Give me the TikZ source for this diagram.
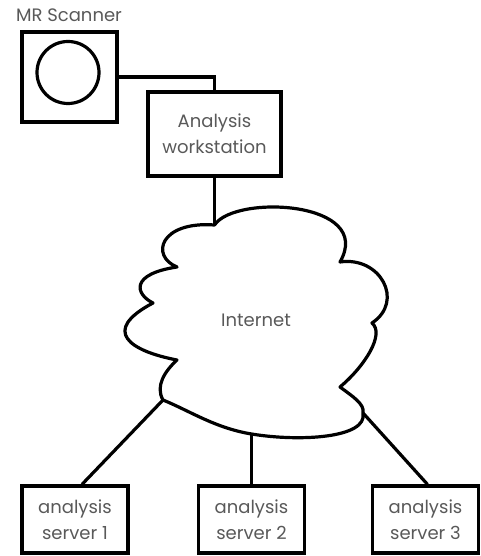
\documentclass[tikz,border=0pt]{standalone}
\usepackage{fontspec}
\setmainfont{Poppins}
\usetikzlibrary{positioning,calc}

\begin{document}
\begin{tikzpicture}[
  x=1pt, y=1pt,
  box/.style={draw, line width=3.2pt, align=center, inner sep=0pt, text=black!65, font=\fontsize{18}{26}\selectfont},
  unit/.style={box, minimum width=106pt, minimum height=67pt},
  link/.style={line width=3.2pt},
  cloudline/.style={line width=3.2pt, line join=round},
  label/.style={text=black!65, font=\fontsize{18}{20}\selectfont}
]
\useasboundingbox (0,0) rectangle (480,556);

\node[box, minimum width=95pt, minimum height=90pt] (scanner) at (69.5,479) {};
\draw[link] (68,483.5) circle (31pt);
\node[label] (mrlabel) at (69,541) {MR Scanner};
\node[box, minimum width=133pt, minimum height=84pt] (ws) at (214.5,422) {Analysis\\workstation};

\node[unit] (srv1) at (75,36.5) {analysis\\server 1};
\node[unit] (srv2) at (251.5,36.5) {analysis\\server 2};
\node[unit] (srv3) at (425.5,36.5) {analysis\\server 3};

% the cloud
\coordinate (topjoin) at (214.5,331);
\coordinate (s1join) at (163,156);
\coordinate (s2join) at (251.5,122);
\coordinate (s3join) at (363,143);
\draw[cloudline] (topjoin)
  .. controls (235,362) and (375,355) .. (340,294)
  .. controls (380,300) and (405,255) .. (372,233)
  .. controls (385,222) and (365,190) .. (340,169)
  .. controls (352,160) and (365,152) .. (s3join)
  .. controls (368,118) and (300,114) .. (s2join)
  .. controls (215,128) and (190,145) .. (s1join)
  .. controls (155,170) and (165,185) .. (177,196)
  .. controls (130,205) and (100,225) .. (153,253)
  .. controls (135,262) and (130,282) .. (177,289)
  .. controls (150,300) and (160,335) .. (topjoin)
  -- cycle;
\node[label] (net) at (256,236) {Internet};

\draw[link] (scanner.east) -| (ws.north);
\draw[link] (ws.south) -- (topjoin);
\draw[link] ([xshift=7pt]srv1.north) -- (s1join);
\draw[link] (srv2.north) -- (s2join);
\draw[link] ([xshift=2pt]srv3.north) -- (s3join);

\end{tikzpicture}
\end{document}
